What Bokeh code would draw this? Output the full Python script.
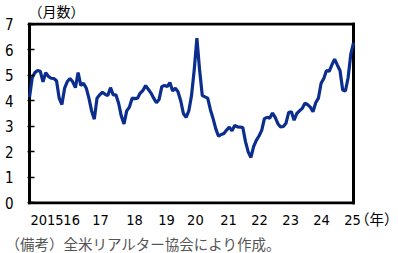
from bokeh.plotting import figure
from bokeh.models import FixedTicker, Range1d, ColumnDataSource, Title
from bokeh.embed import file_html
from bokeh.resources import INLINE

# monthly months' supply, Jan 2015 .. Jan 2025
values = [
    4.13, 4.90, 5.10, 5.18, 5.15, 4.74, 5.10, 4.95, 4.88, 4.87, 4.78, 4.10,
    3.85, 4.49, 4.75, 4.87, 4.74, 4.51, 5.10, 4.60, 4.68, 4.50, 4.10, 3.60,
    3.28, 4.10, 4.23, 4.33, 4.25, 4.20, 4.51, 4.23, 4.23, 3.90, 3.40, 3.09,
    3.60, 3.75, 4.10, 4.08, 4.10, 4.30, 4.40, 4.59, 4.45, 4.30, 4.10, 3.92,
    4.05, 4.55, 4.60, 4.55, 4.71, 4.38, 4.49, 4.35, 4.00, 3.50, 3.35, 3.60,
    4.20, 5.20, 6.45, 5.20, 4.20, 4.15, 4.10, 3.65, 3.30, 2.90, 2.61, 2.68,
    2.72, 2.85, 2.97, 2.82, 3.03, 2.98, 2.97, 2.95, 2.40, 2.00, 1.78, 2.20,
    2.45, 2.62, 2.84, 3.30, 3.35, 3.32, 3.52, 3.35, 3.10, 2.97, 2.99, 3.12,
    3.54, 3.57, 3.24, 3.50, 3.60, 3.70, 3.90, 3.85, 3.75, 3.57, 3.92, 4.10,
    4.68, 4.87, 5.18, 5.15, 5.40, 5.63, 5.40, 5.18, 4.42, 4.38, 4.90, 5.82,
    6.26,
]
months = [2015 + i / 12 for i in range(len(values))]

# x tick label centres, as placed in the reference
year_ticks = [2015.54, 2016.30, 2017.19, 2018.24, 2019.23, 2020.12,
              2021.14, 2022.10, 2023.06, 2024.01, 2024.97, 2025.82]
year_labels = ["2015", "16", "17", "18", "19", "20", "21", "22", "23", "24",
               "25", "（年）"]
y_ticks = [0, 1, 2, 3, 4, 5, 6, 7]

X_START, X_END = 2015, 2025          # boxed data period
Y_MIN, Y_MAX = 0, 7
NUM_FONT = "DejaVu Sans Condensed, Noto Sans CJK JP"
JP_FONT = "Noto Sans CJK JP"

p = figure(width=398, height=253, output_backend="svg", toolbar_location=None,
           x_range=Range1d(2014.938, 2026.142), y_range=Range1d(-0.06, 7.06),
           min_border_left=27, min_border_right=8, min_border_top=17,
           min_border_bottom=48)
p.background_fill_color = "white"
p.border_fill_color = "white"
p.outline_line_color = None
p.grid.visible = False

# the framed box around the data period (left, top, right, bottom edges)
p.segment(x0=[X_START, X_START, X_END, X_START],
          y0=[Y_MIN, Y_MAX, Y_MIN, Y_MIN],
          x1=[X_START, X_END, X_END, X_END],
          y1=[Y_MAX, Y_MAX, Y_MAX, Y_MIN],
          line_color="black", line_width=3, line_cap="square")

src = ColumnDataSource(dict(x=months, y=values))
p.line("x", "y", source=src, line_color="#0b2d8e", line_width=3.2)

ya = p.yaxis[0]
ya.ticker = FixedTicker(ticks=y_ticks)
ya.axis_line_color = None
ya.major_tick_in = 7
ya.major_tick_out = 0
ya.major_tick_line_color = "black"
ya.major_tick_line_width = 1.5
ya.minor_tick_line_color = None
ya.major_label_standoff = 14
ya.major_label_text_font = NUM_FONT
ya.major_label_text_font_size = "15px"
ya.major_label_text_color = "black"

xa = p.xaxis[0]
xa.ticker = FixedTicker(ticks=year_ticks)
xa.major_label_overrides = {t: l for t, l in zip(year_ticks, year_labels)}
xa.axis_line_color = None
xa.major_tick_line_color = None
xa.minor_tick_line_color = None
xa.major_label_standoff = 1
xa.major_label_text_font = NUM_FONT
xa.major_label_text_font_size = "14.5px"
xa.major_label_text_color = "black"

p.add_layout(Title(text="（月数）", text_font=JP_FONT, text_font_size="14px",
                   text_color="black", text_font_style="normal",
                   align="left", offset=1, standoff=0,
                   vertical_align="top"), "above")
p.add_layout(Title(text="（備考）全米リアルター協会により作成。", text_font=JP_FONT,
                   text_font_size="14.5px", text_color="#555555",
                   text_font_style="normal", align="left", offset=-22,
                   standoff=0), "below")

open("out.html", "w").write(file_html(p, INLINE))
